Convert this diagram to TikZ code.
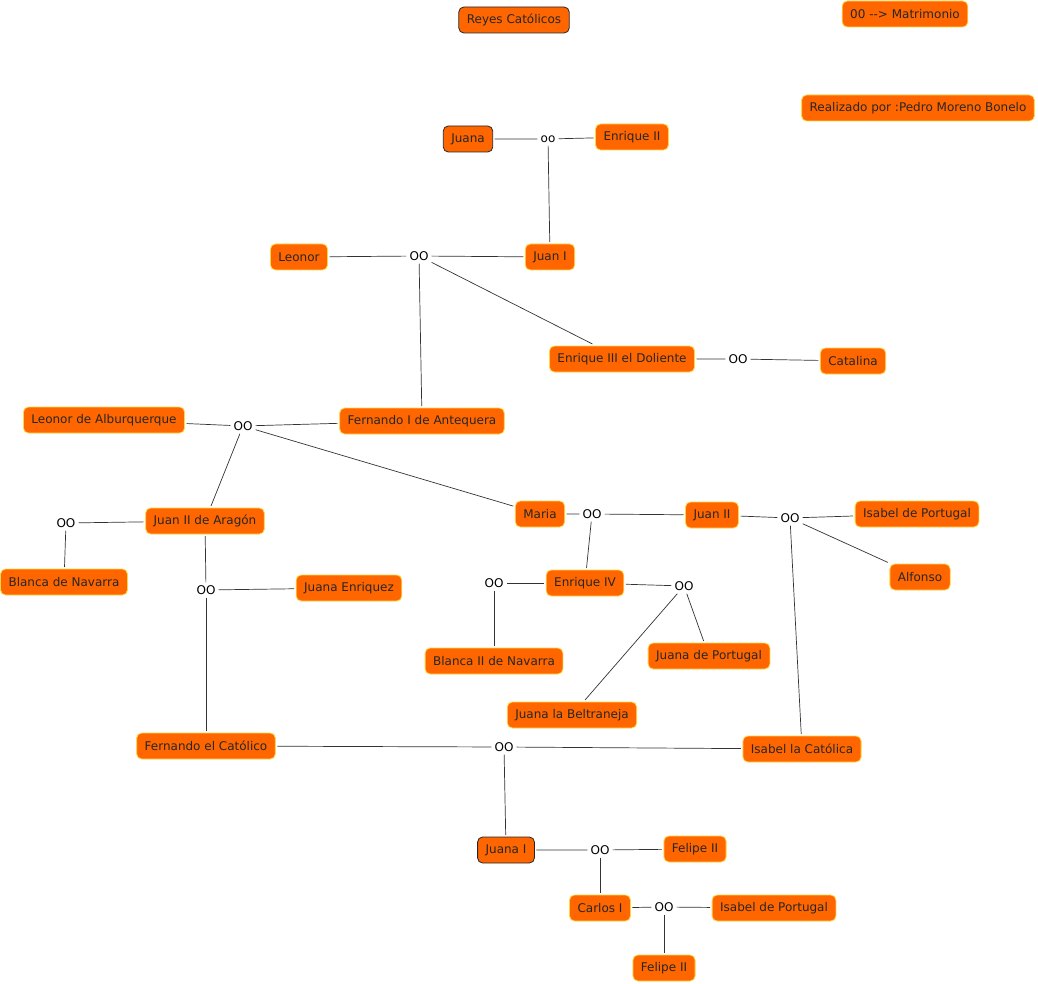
\documentclass[tikz,border=0pt]{standalone}
\usepackage{fontspec}
\setmainfont{DejaVu Sans}
\usepackage{tikz}
\usetikzlibrary{positioning}
\definecolor{cmaporange}{RGB}{255,102,0}
\definecolor{cmapyellow}{RGB}{255,215,70}

\begin{document}
\begin{tikzpicture}[x=1pt, y=-1pt,
    person/.style={rectangle, rounded corners=5pt, draw=cmapyellow, line width=0.8pt, fill=cmaporange, text=black!85, minimum height=26pt, inner xsep=8pt, outer sep=2pt, font=\fontsize{12}{14}\selectfont},
    main/.style={person, draw=black!85},
    wed/.style={inner sep=3pt, font=\fontsize{12}{14}\selectfont},
    link/.style={draw=black!80, line width=0.7pt}
]
\useasboundingbox (0,0) rectangle (1038,984);

% Title and notes
\node[main] (title) at (514, 20) {Reyes Católicos};
\node[person] (legend) at (905, 14) {00 -{}-> Matrimonio};
\node[person] (autor) at (918, 108) {Realizado por :Pedro Moreno Bonelo};

% First generations
\node[main] (juana) at (468, 139) {Juana};
\node[wed] (m1) at (548, 139) {oo};
\node[person] (enrique2) at (632, 137) {Enrique II};
\node[person] (leonor) at (299, 257) {Leonor};
\node[wed] (m2) at (419, 256) {OO};
\node[person] (juan1) at (550, 257) {Juan I};
\node[person] (enrique3) at (622, 359) {Enrique III el Doliente};
\node[wed] (m3) at (738, 359) {OO};
\node[person] (catalina) at (853, 361) {Catalina};
\node[person] (leonoralb) at (104, 420) {Leonor de Alburquerque};
\node[wed] (m4) at (243, 426) {OO};
\node[person] (fernando1) at (422, 421) {Fernando I de Antequera};

% Aragon side
\node[person] (juan2arag) at (205, 521) {Juan II de Aragón};
\node[wed] (m5) at (66, 523) {OO};
\node[person] (blanca) at (64, 582) {Blanca de Navarra};
\node[wed] (m6) at (206, 590) {OO};
\node[person] (juanaenr) at (349, 588) {Juana Enriquez};
\node[person] (fernandocat) at (206, 746) {Fernando el Católico};

% Castilla side
\node[person] (maria) at (540, 514) {Maria};
\node[wed] (m7) at (592, 514) {OO};
\node[person] (juan2) at (712, 515) {Juan II};
\node[wed] (m8) at (790, 518) {OO};
\node[person] (isabelport) at (917, 514) {Isabel de Portugal};
\node[person] (alfonso) at (920, 577) {Alfonso};
\node[person] (enrique4) at (585, 583) {Enrique IV};
\node[wed] (m9) at (494, 583) {OO};
\node[wed] (m10) at (684, 586) {OO};
\node[person] (blanca2) at (494, 661) {Blanca II de Navarra};
\node[person] (juanaport) at (709, 656) {Juana de Portugal};
\node[person] (beltraneja) at (572, 715) {Juana la Beltraneja};
\node[person] (isabelcat) at (802, 749) {Isabel la Católica};

% Descendants
\node[wed] (m11) at (504, 747) {OO};
\node[main] (juanaI) at (506, 850) {Juana I};
\node[wed] (m12) at (600, 850) {OO};
\node[person] (felipe) at (695, 849) {Felipe II};
\node[person] (carlos) at (600, 908) {Carlos I};
\node[wed] (m13) at (664, 907) {OO};
\node[person] (isabelport2) at (774, 908) {Isabel de Portugal};
\node[person] (felipe2) at (664, 968) {Felipe II};

% Links
\draw[link] (juana) -- (m1) -- (enrique2);
\draw[link] (m1) -- (juan1);
\draw[link] (leonor) -- (m2) -- (juan1);
\draw[link] (m2) -- (fernando1);
\draw[link] (m2) -- (enrique3);
\draw[link] (enrique3) -- (m3) -- (catalina);
\draw[link] (leonoralb) -- (m4) -- (fernando1);
\draw[link] (m4) -- (juan2arag);
\draw[link] (m4) -- (maria);
\draw[link] (juan2arag) -- (m5);
\draw[link] (m5) -- (blanca);
\draw[link] (juan2arag) -- (m6) -- (juanaenr);
\draw[link] (m6) -- (fernandocat);
\draw[link] (maria) -- (m7) -- (juan2);
\draw[link] (m7) -- (enrique4);
\draw[link] (juan2) -- (m8) -- (isabelport);
\draw[link] (m8) -- (alfonso);
\draw[link] (m8) -- (isabelcat);
\draw[link] (enrique4) -- (m9);
\draw[link] (m9) -- (blanca2);
\draw[link] (enrique4) -- (m10);
\draw[link] (m10) -- (beltraneja);
\draw[link] (m10) -- (juanaport);
\draw[link] (fernandocat) -- (m11) -- (isabelcat);
\draw[link] (m11) -- (juanaI);
\draw[link] (juanaI) -- (m12) -- (felipe);
\draw[link] (m12) -- (carlos);
\draw[link] (carlos) -- (m13) -- (isabelport2);
\draw[link] (m13) -- (felipe2);

\end{tikzpicture}
\end{document}
